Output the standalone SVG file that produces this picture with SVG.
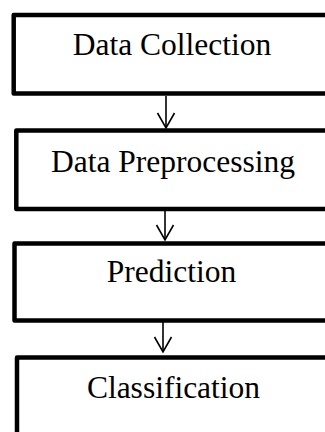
<svg xmlns="http://www.w3.org/2000/svg" width="325" height="432" viewBox="0 0 325 432">
<defs>
<style>
.box{fill:#fff;stroke:#000;stroke-width:4.5;stroke-linejoin:round}
.lbl{font-family:"Liberation Serif","Times New Roman",serif;font-size:31.5px;fill:#000;text-anchor:middle}
.conn{stroke:#000;stroke-width:1.6;fill:none}
</style>
<marker id="arr" viewBox="0 0 20 20" refX="17" refY="10" markerWidth="20" markerHeight="20" markerUnits="userSpaceOnUse" orient="auto">
<path d="M2,1.5 L17,10 L2,18.5" fill="none" stroke="#000" stroke-width="1.6"/>
</marker>
</defs>
<rect width="325" height="432" fill="#fff"/>
<g id="connectors">
<line class="conn" x1="166" y1="96" x2="166" y2="128" marker-end="url(#arr)"/>
<line class="conn" x1="165" y1="211" x2="165" y2="240" marker-end="url(#arr)"/>
<line class="conn" x1="163" y1="322" x2="163" y2="352" marker-end="url(#arr)"/>
</g>
<g id="node-data-collection">
<rect class="box" x="13.7" y="15" width="330" height="78.5"/>
<text class="lbl" x="172" y="55">Data Collection</text>
</g>
<g id="node-data-preprocessing">
<rect class="box" x="16.3" y="130.5" width="330" height="78.5"/>
<text class="lbl" x="173" y="172">Data Preprocessing</text>
</g>
<g id="node-prediction">
<rect class="box" x="14.5" y="243.5" width="330" height="77"/>
<text class="lbl" x="171.5" y="281.5">Prediction</text>
</g>
<g id="node-classification">
<rect class="box" x="17" y="357.5" width="330" height="90"/>
<text class="lbl" x="173.5" y="397.5">Classification</text>
</g>
</svg>
